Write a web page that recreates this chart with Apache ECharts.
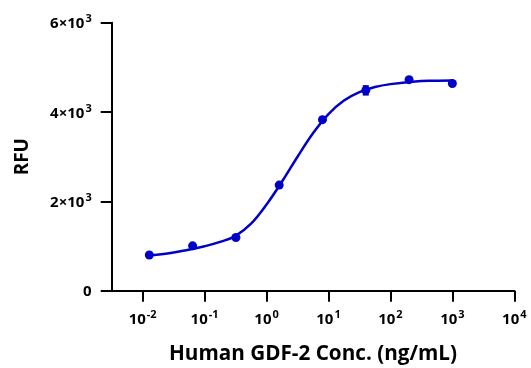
<!DOCTYPE html>
<html>
<head>
<meta charset="utf-8">
<script src="https://cdn.jsdelivr.net/npm/echarts@6/dist/echarts.min.js"></script>
<style>
  html, body { margin: 0; padding: 0; background: #fff; }
  #chart { width: 531px; height: 368px; }
</style>
</head>
<body>
<div id="chart"></div>
<script>
// measured points: concentration (ng/mL) and RFU
const conc = [0.0128, 0.064, 0.32, 1.6, 8, 40, 200, 1000];
const rfu = [800, 1005, 1190, 2365, 3830, 4485, 4725, 4640];
const rfuErr = [0, 0, 0, 0, 0, 95, 0, 0];

// fitted curve (log10 conc, RFU)
const curveLogX = [-1.9, -1.6, -1.3, -1.0, -0.75, -0.5, -0.25, 0, 0.25, 0.5, 0.75, 1.0, 1.25, 1.5, 1.75, 2.0, 2.4, 2.7, 3.0];
const curveY = [792, 833, 905, 995, 1092, 1228, 1500, 1930, 2445, 3000, 3525, 3955, 4258, 4445, 4560, 4625, 4685, 4700, 4706];

// x tick positions (log10 of conc)
const xTicks = [-2, -1, 0, 1, 2, 3, 4];

const BLUE = '#0000c8';
const FONT = 'Open Sans';

const chart = echarts.init(document.getElementById('chart'));

// "10" with a raised exponent
const supRich = {
    base: { fontSize: 15, fontWeight: 'bold', fontFamily: FONT, color: '#000', lineHeight: 18, verticalAlign: 'bottom' },
    sup: { fontSize: 11, fontWeight: 'bold', fontFamily: FONT, color: '#000', lineHeight: 10, verticalAlign: 'top', padding: [0, 0, 0, 1] }
};

const option = {
    animation: false,
    grid: {
        left: 111.7,
        right: 16.7,
        top: 22.7,
        bottom: 77.3,
        containLabel: false,
        outerBoundsMode: 'none'
    },
    xAxis: {
        type: 'value',
        min: -2.5,
        max: 4,
        name: 'Human GDF-2 Conc. (ng/mL)',
        nameLocation: 'middle',
        nameGap: 53,
        nameTextStyle: { fontSize: 20.7, fontWeight: 'bold', fontFamily: FONT, color: '#000' },
        axisLine: { onZero: false, lineStyle: { color: '#000', width: 2 } },
        axisTick: { customValues: xTicks, length: 11, lineStyle: { color: '#000', width: 2 } },
        axisLabel: {
            customValues: xTicks,
            margin: 19,
            formatter: v => '{base|10}{sup|' + (v < 0 ? '-' + (-v) : v) + '}',
            rich: supRich
        },
        splitLine: { show: false }
    },
    yAxis: {
        type: 'value',
        min: 0,
        max: 6000,
        interval: 2000,
        name: 'RFU',
        nameLocation: 'middle',
        nameGap: 80,
        nameTextStyle: { fontSize: 19, fontWeight: 'bold', fontFamily: FONT, color: '#000' },
        axisLine: { show: true, onZero: false, lineStyle: { color: '#000', width: 2 } },
        axisTick: { show: true, length: 11, lineStyle: { color: '#000', width: 2 } },
        axisLabel: {
            margin: 20,
            formatter: v => v === 0 ? '{base|0}' : '{base|' + (v / 1000) + '×10}{sup|3}',
            rich: supRich
        },
        splitLine: { show: false }
    },
    series: [
        {
            type: 'line',
            data: curveLogX.map((x, i) => [x, curveY[i]]),
            smooth: 0.4,
            symbol: 'none',
            lineStyle: { color: BLUE, width: 2.5 },
            z: 2
        },
        {
            type: 'custom',
            data: conc.map((c, i) => [Math.log10(c), rfu[i], rfuErr[i]]).filter(d => d[2] > 0),
            renderItem: (params, api) => {
                const x = api.value(0), y = api.value(1), e = api.value(2);
                const top = api.coord([x, y + e]);
                const bot = api.coord([x, y - e]);
                const w = 3;
                const style = { stroke: BLUE, lineWidth: 2 };
                return {
                    type: 'group',
                    children: [
                        { type: 'line', shape: { x1: top[0], y1: top[1], x2: bot[0], y2: bot[1] }, style },
                        { type: 'line', shape: { x1: top[0] - w, y1: top[1], x2: top[0] + w, y2: top[1] }, style },
                        { type: 'line', shape: { x1: bot[0] - w, y1: bot[1], x2: bot[0] + w, y2: bot[1] }, style }
                    ]
                };
            },
            z: 3
        },
        {
            type: 'scatter',
            data: conc.map((c, i) => [Math.log10(c), rfu[i]]),
            symbolSize: 9,
            itemStyle: { color: BLUE, opacity: 1 },
            z: 4
        }
    ]
};

chart.setOption(option);
</script>
</body>
</html>
